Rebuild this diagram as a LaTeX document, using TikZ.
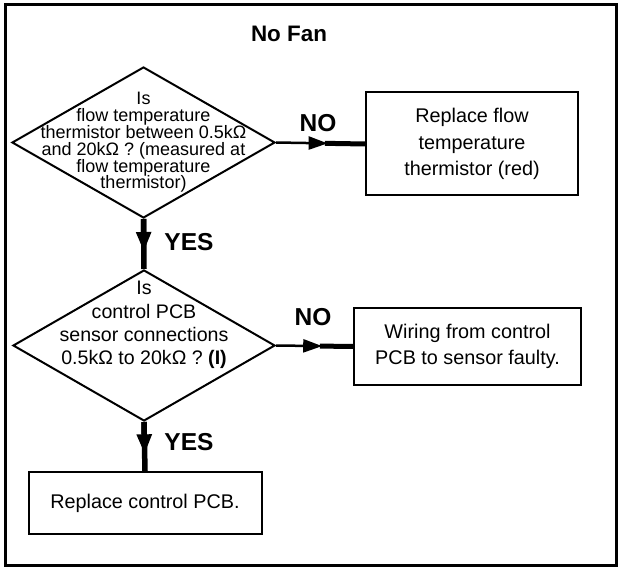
\documentclass[tikz,border=0pt]{standalone}
\usepackage{fontspec}
\setmainfont{Liberation Sans}
\usetikzlibrary{shapes.geometric,arrows.meta,calc}
\begin{document}
\begin{tikzpicture}[x=1pt,y=-1pt,
  boxnode/.style={draw,line width=2pt,rectangle,inner sep=0pt,align=center,font=\fontsize{19.8}{26.5}\selectfont},
  decision/.style={draw,line width=2pt,diamond,inner sep=0pt},
  dtext/.style={align=center,inner sep=0pt},
  lbl/.style={font=\bfseries\fontsize{24.5}{28}\selectfont},
  vconn/.style={line width=5.5pt},
  vtip/.style={line width=5.5pt,-{Triangle[length=20pt,width=14pt]}},
  hthick/.style={line width=5pt},
  htip/.style={line width=2.5pt,-{Triangle[length=19pt,width=13pt]}}]
\useasboundingbox (0,0) rectangle (621,569);
\draw[line width=3pt] (5,5) rectangle (616,565);
\node[font=\bfseries\fontsize{22.4}{26}\selectfont] (title) at (289,34) {No Fan};

\node[decision,minimum width=263pt,minimum height=151pt] (d1) at (143.5,142.5) {};
\node[dtext,font=\fontsize{18}{16.8}\selectfont] (t1) at (143.5,142.5)
  {Is\\flow temperature\\thermistor between 0.5kΩ\\and 20kΩ ? (measured at\\flow temperature\\thermistor)};

\node[decision,minimum width=262pt,minimum height=151pt] (d2) at (144,345.5) {};
\node[dtext,font=\fontsize{19.6}{23.3}\selectfont] (t2) at (144,325)
  {Is\\control PCB\\sensor connections\\0.5kΩ to 20kΩ ? \textbf{(I)}};

\node[boxnode,minimum width=212pt,minimum height=103pt] (b1) at (472,144)
  {Replace flow\\temperature\\thermistor (red)};
\node[boxnode,minimum width=227pt,minimum height=77pt] (b2) at (467.5,346.5)
  {Wiring from control\\PCB to sensor faulty.};
\node[boxnode,minimum width=233pt,minimum height=62pt] (b3) at (145,503)
  {Replace control PCB.};

\draw[hthick] ($(d1.east)!0.55!(b1.west)$) -- (b1.west);
\draw[htip] (d1.east) -- ($(d1.east)!0.58!(b1.west)$);
\draw[hthick] ($(d2.east)!0.57!(b2.west)$) -- (b2.west);
\draw[htip] (d2.east) -- ($(d2.east)!0.60!(b2.west)$);
\draw[vconn] (d1.south) -- (d2.north);
\draw[vtip] (d1.south) -- ($(d1.south)!0.66!(d2.north)$);
\draw[vconn] (d2.south) -- (b3.north);
\draw[vtip] (d2.south) -- ($(d2.south)!0.66!(b3.north)$);

\node[lbl] (no1) at (318,123) {NO};
\node[lbl] (no2) at (313,317) {NO};
\node[lbl] (yes1) at (189,242) {YES};
\node[lbl] (yes2) at (189,442) {YES};
\end{tikzpicture}
\end{document}
